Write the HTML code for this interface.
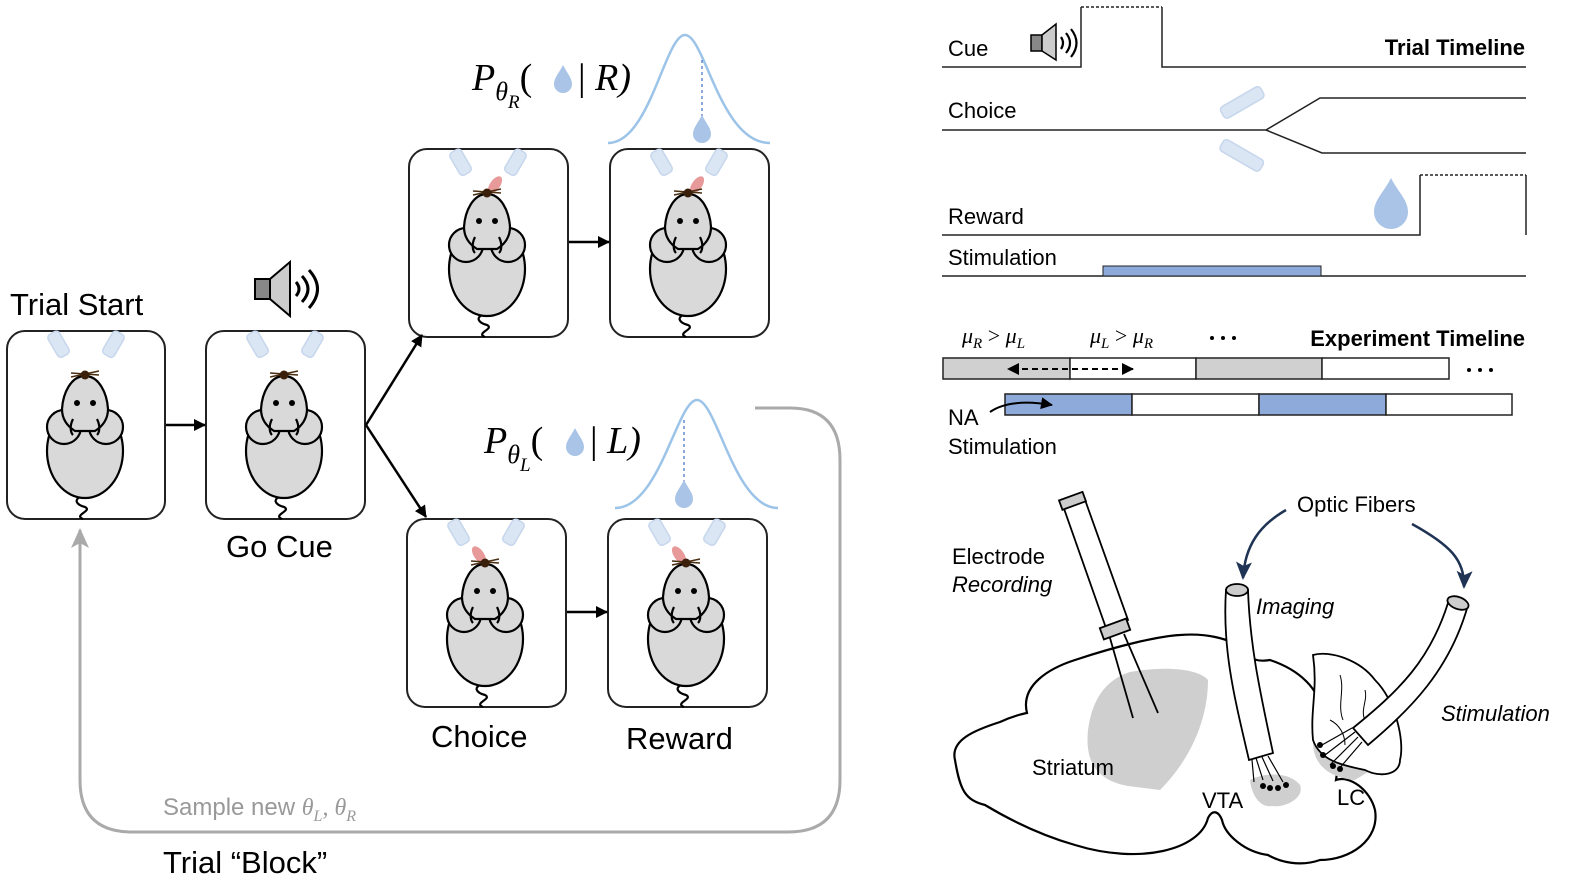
<!DOCTYPE html>
<html><head><meta charset="utf-8"><style>
html,body{margin:0;padding:0;background:#fff}
svg{display:block}
text{font-family:"Liberation Sans",Arial,sans-serif}
.m{font-family:"Liberation Serif","DejaVu Serif",serif;font-style:italic}
</style></head><body>
<svg width="1578" height="887" viewBox="0 0 1578 887" xmlns="http://www.w3.org/2000/svg">
<defs>
<marker id="ah" markerWidth="12" markerHeight="12" refX="11" refY="6" orient="auto" markerUnits="userSpaceOnUse"><path d="M0,0 L12,6 L0,12z" fill="#000"/></marker>
<marker id="ag" markerWidth="22" markerHeight="22" refX="18" refY="11" orient="auto" markerUnits="userSpaceOnUse"><path d="M0,2 L20,11 L0,20 L5,11z" fill="#aaa"/></marker>
<marker id="ab" markerWidth="20" markerHeight="20" refX="16" refY="10" orient="auto" markerUnits="userSpaceOnUse"><path d="M0,2 L18,10 L0,18 L4,10z" fill="#1f3354"/></marker>
<path id="drop" d="M0,-15 C4,-7 9,-2 9,4 A9,9 0 0 1 -9,4 C-9,-2 -4,-7 0,-15Z" fill="#a9c4e6"/>
<g id="mouse">
 <g fill="#dbe6f4" stroke="#c6d6ec" stroke-width="1.5">
  <rect x="45" y="0" width="13" height="26" rx="4" transform="rotate(-30 52 13)"/>
  <rect x="100" y="0" width="13" height="26" rx="4" transform="rotate(30 106 13)"/>
 </g>
 <g stroke="#000" stroke-width="2.2" fill="#d9d9d9">
  <path d="M78,164 c-14,4 -8,10 0,12 c8,4 -12,8 -2,12" fill="none"/>
  <ellipse cx="78" cy="120" rx="38" ry="47"/>
  <circle cx="57" cy="96" r="17"/>
  <circle cx="99" cy="96" r="17"/>
  <path d="M78,45 C92,45 100,62 101,78 C101,88 96,95 88,100 L68,100 C60,95 55,88 55,78 C56,62 64,45 78,45Z"/>
  <path d="M66,88 c-4,8 -2,14 0,16 M90,88 c4,8 2,14 0,16" fill="none"/>
 </g>
 <path d="M64,42 L92,44 M64,46 L92,40" stroke="#4a2e12" stroke-width="1.5"/>
 <circle cx="78" cy="44" r="4.5" fill="#3a200a"/>
 <circle cx="70" cy="72" r="3" fill="#000"/><circle cx="86" cy="72" r="3" fill="#000"/>
</g>
</defs>

<g fill="#fff" stroke="#222" stroke-width="2">
<rect x="7" y="331" width="158" height="188" rx="18"/>
<rect x="206" y="331" width="159" height="188" rx="18"/>
<rect x="409" y="149" width="159" height="188" rx="18"/>
<rect x="610" y="149" width="159" height="188" rx="18"/>
<rect x="407" y="519" width="159" height="188" rx="18"/>
<rect x="608" y="519" width="159" height="188" rx="18"/>
</g>
<use href="#mouse" x="7" y="331"/>
<use href="#mouse" x="206" y="331"/>
<g fill="#e89a9a"><ellipse cx="495" cy="185" rx="5" ry="10" transform="rotate(35 495 185)"/><ellipse cx="697" cy="185" rx="5" ry="10" transform="rotate(35 697 185)"/>
<ellipse cx="479" cy="555" rx="5" ry="10" transform="rotate(-35 479 555)"/><ellipse cx="679" cy="555" rx="5" ry="10" transform="rotate(-35 679 555)"/></g>
<use href="#mouse" x="409" y="149"/>
<use href="#mouse" x="610" y="149"/>
<use href="#mouse" x="407" y="519"/>
<use href="#mouse" x="608" y="519"/>

<g stroke="#000" stroke-width="2.5" fill="none" marker-end="url(#ah)">
<line x1="166" y1="425" x2="205" y2="425"/>
<path d="M366,425 L422,335"/>
<path d="M366,425 L426,517"/>
<line x1="569" y1="242" x2="609" y2="242"/>
<line x1="567" y1="612" x2="607" y2="612"/>
</g>
<path d="M755,408 L790,408 Q840,408 840,460 L840,780 Q840,832 788,832 L132,832 Q80,832 80,780 L80,530" fill="none" stroke="#aaa" stroke-width="3" marker-end="url(#ag)"/>

<g><rect x="255" y="279" width="15" height="20" fill="#888" stroke="#000" stroke-width="2"/><path d="M270,279 L290,262 L290,316 L270,299Z" fill="#ccc" stroke="#000" stroke-width="2"/>
<path d="M296,282 q6,7 0,14 M302,276 q12,13 0,26 M309,270 q17,19 0,38" fill="none" stroke="#000" stroke-width="3"/></g>

<g font-size="31" fill="#000">
<text x="10" y="315">Trial Start</text>
<text x="226" y="557">Go Cue</text>
<text x="431" y="747">Choice</text>
<text x="626" y="749">Reward</text>
<text x="163" y="873">Trial “Block”</text>
</g>
<text x="163" y="815" font-size="24" fill="#999">Sample new <tspan class="m">θ<tspan font-size="16" dy="6">L</tspan><tspan dy="-6">, θ</tspan><tspan font-size="16" dy="6">R</tspan></tspan></text>

<path d="M608,143 C650,143 665,35 685,35 C705,35 720,143 770,143" fill="none" stroke="#9cc3e8" stroke-width="2.5"/>
<line x1="702" y1="60" x2="702" y2="143" stroke="#4b78c8" stroke-width="1.3" stroke-dasharray="3,3"/>
<use href="#drop" x="702" y="130"/>
<path d="M615,508 C660,508 677,400 697,400 C717,400 734,508 778,508" fill="none" stroke="#9cc3e8" stroke-width="2.5"/>
<line x1="684" y1="420" x2="684" y2="508" stroke="#4b78c8" stroke-width="1.3" stroke-dasharray="3,3"/>
<use href="#drop" x="684" y="495"/>
<text class="m" x="472" y="90" font-size="38">P<tspan font-size="26" dy="10">θ</tspan><tspan font-size="19" dy="8">R</tspan><tspan font-style="normal" dy="-18">(</tspan></text>
<use href="#drop" x="563" y="80"/>
<text class="m" x="578" y="90" font-size="38"><tspan font-style="normal">|</tspan> R)</text>
<text class="m" x="484" y="453" font-size="38">P<tspan font-size="26" dy="10">θ</tspan><tspan font-size="19" dy="8">L</tspan><tspan font-style="normal" dy="-18">(</tspan></text>
<use href="#drop" x="575" y="443"/>
<text class="m" x="590" y="453" font-size="38"><tspan font-style="normal">|</tspan> L)</text>

<g stroke="#222" stroke-width="1.5" fill="none">
<path d="M942,67 L1081,67 L1081,7"/>
<path d="M1081,7 L1162,7" stroke-dasharray="3,2"/>
<path d="M1162,7 L1162,67 L1526,67"/>
<path d="M942,130 L1266,130 L1320,98 L1526,98 M1266,130 L1322,153 L1526,153"/>
<path d="M942,235 L1420,235 L1420,175"/>
<path d="M1420,175 L1526,175" stroke-dasharray="3,2"/>
<path d="M1526,175 L1526,235"/>
<path d="M942,276 L1526,276"/>
</g>
<rect x="1103" y="266" width="218" height="10" fill="#8eaadb" stroke="#222" stroke-width="1"/>
<g><rect x="1031" y="35" width="11" height="16" fill="#888" stroke="#000" stroke-width="1.5"/><path d="M1042,35 L1056,24 L1056,60 L1042,51Z" fill="#ccc" stroke="#000" stroke-width="1.5"/>
<path d="M1061,37 q4,6 0,12 M1066,33 q8,10 0,20 M1071,29 q11,14 0,28" fill="none" stroke="#000" stroke-width="2.2"/></g>
<g fill="#dbe6f4" stroke="#c6d6ec" stroke-width="1.5"><rect x="1219" y="96" width="46" height="13" rx="4" transform="rotate(-30 1242 102)"/><rect x="1219" y="149" width="46" height="13" rx="4" transform="rotate(30 1242 155)"/></g>
<path d="M1391,178 C1398,192 1408,200 1408,212 A17,17 0 0 1 1374,212 C1374,200 1384,192 1391,178Z" fill="#a9c4e6"/>
<g font-size="22" fill="#000">
<text x="948" y="56">Cue</text>
<text x="948" y="118">Choice</text>
<text x="948" y="224">Reward</text>
<text x="948" y="265">Stimulation</text>
<text x="1525" y="55" text-anchor="end" font-weight="bold">Trial Timeline</text>
<text x="1525" y="346" text-anchor="end" font-weight="bold">Experiment Timeline</text>
<text x="948" y="425">NA</text>
<text x="948" y="454">Stimulation</text>
</g>
<text class="m" x="962" y="343" font-size="22">μ<tspan font-size="15" dy="5">R</tspan><tspan dy="-5" font-style="normal"> &gt; </tspan>μ<tspan font-size="15" dy="5">L</tspan></text>
<text class="m" x="1090" y="343" font-size="22">μ<tspan font-size="15" dy="5">L</tspan><tspan dy="-5" font-style="normal"> &gt; </tspan>μ<tspan font-size="15" dy="5">R</tspan></text>
<g fill="#000"><circle cx="1212" cy="338" r="2"/><circle cx="1223" cy="338" r="2"/><circle cx="1234" cy="338" r="2"/>
<circle cx="1469" cy="370" r="2"/><circle cx="1480" cy="370" r="2"/><circle cx="1491" cy="370" r="2"/></g>
<g stroke="#222" stroke-width="1.5">
<rect x="943" y="358" width="127" height="21" fill="#d0d0d0"/><rect x="1070" y="358" width="126" height="21" fill="#fff"/>
<rect x="1196" y="358" width="126" height="21" fill="#d0d0d0"/><rect x="1322" y="358" width="127" height="21" fill="#fff"/>
<rect x="1005" y="394" width="127" height="21" fill="#8eaadb"/><rect x="1132" y="394" width="127" height="21" fill="#fff"/>
<rect x="1259" y="394" width="127" height="21" fill="#8eaadb"/><rect x="1386" y="394" width="126" height="21" fill="#fff"/>
</g>
<g stroke="#000" stroke-width="2" fill="none">
<path d="M1068,369 L1008,369" stroke-dasharray="6,4" marker-end="url(#ah)"/>
<path d="M1072,369 L1133,369" stroke-dasharray="6,4" marker-end="url(#ah)"/>
<path d="M990,412 Q1010,398 1052,405" marker-end="url(#ah)"/>
</g>

<path d="M1027,713 C1020,685 1050,668 1075,660 C1120,645 1160,636 1180,635 C1205,633 1230,638 1245,650 C1250,660 1258,662 1270,660 C1300,670 1320,690 1320,710 C1335,725 1340,760 1336,780 C1350,775 1370,790 1375,810 C1380,840 1350,860 1320,860 C1300,867 1280,862 1268,855 C1245,852 1225,835 1222,820 C1218,810 1212,810 1208,818 C1200,850 1140,865 1075,845 C1040,835 1010,820 985,805 C965,800 960,790 955,760 C950,740 975,730 1000,722 C1015,715 1027,713 1027,713Z" fill="#fff" stroke="#000" stroke-width="2.2"/>
<path d="M1130,672 C1170,665 1200,670 1208,680 C1208,720 1190,760 1160,790 L1128,786 C1095,780 1085,760 1088,730 C1092,700 1105,680 1130,672Z" fill="#cfcfcf"/>
<path d="M1250,780 C1265,772 1290,772 1300,785 C1305,798 1285,808 1272,806 C1262,808 1252,798 1250,780Z" fill="#cfcfcf"/>
<path d="M1313,740 C1325,745 1350,760 1368,772 L1355,780 C1330,778 1312,765 1313,740Z" fill="#cfcfcf"/>
<path d="M1313,655 C1330,650 1360,660 1375,680 C1395,700 1405,740 1400,760 C1400,775 1380,778 1365,770 C1340,765 1320,760 1313,740 C1310,710 1318,690 1313,655Z" fill="#fff" stroke="#000" stroke-width="1.8"/>
<g stroke="#000" stroke-width="1" fill="none"><path d="M1340,675 c5,15 -3,30 3,45 M1365,690 c3,10 -5,20 0,30 M1330,720 c10,5 15,15 15,25"/></g>
<g stroke="#000" stroke-width="1.8" fill="#fff">
<path d="M1062,503 L1106,628 L1128,620 L1084,497Z"/>
<rect x="1060" y="496" width="25" height="10" fill="#ccc" transform="rotate(-20 1072 501)"/>
<rect x="1101" y="623" width="28" height="12" fill="#ccc" transform="rotate(-20 1115 629)"/>
<path d="M1110,638 L1133,718 M1124,634 L1158,713" fill="none"/>
</g>
<g stroke="#000" stroke-width="1.8" fill="#fff">
<path d="M1226,590 C1222,650 1235,700 1249,760 L1273,753 C1262,700 1250,650 1248,590Z"/>
<ellipse cx="1237" cy="590" rx="11" ry="6" fill="#ccc"/>
<path d="M1256,758 L1263,780 M1262,757 L1273,781 M1268,756 L1283,782 M1252,760 L1254,782" fill="none" stroke-width="1.2"/>
</g>
<g fill="#000"><circle cx="1263" cy="786" r="3"/><circle cx="1270" cy="788" r="3"/><circle cx="1278" cy="788" r="3"/><circle cx="1286" cy="785" r="3"/></g>
<g stroke="#000" stroke-width="1.8" fill="#fff">
<path d="M1448,603 C1430,660 1400,690 1353,728 L1368,745 C1410,710 1450,670 1468,605Z"/>
<ellipse cx="1458" cy="603" rx="11" ry="6" fill="#ccc" transform="rotate(20 1458 603)"/>
<path d="M1355,732 L1325,755 M1358,737 L1330,765 M1362,742 L1338,770 M1352,728 L1322,745" fill="none" stroke-width="1.2"/>
</g>
<g fill="#000"><circle cx="1320" cy="745" r="3"/><circle cx="1323" cy="755" r="3"/><circle cx="1333" cy="766" r="3"/><circle cx="1340" cy="769" r="3"/></g>
<g stroke="#1f3354" stroke-width="2.5" fill="none" marker-end="url(#ab)">
<path d="M1286,510 C1260,525 1245,545 1243,578"/>
<path d="M1412,524 C1450,545 1465,560 1464,587"/>
</g>
<g font-size="22" fill="#000">
<text x="1297" y="512">Optic Fibers</text>
<text x="952" y="564">Electrode</text>
<text x="952" y="592" font-style="italic">Recording</text>
<text x="1256" y="614" font-style="italic">Imaging</text>
<text x="1441" y="721" font-style="italic">Stimulation</text>
<text x="1032" y="775">Striatum</text>
<text x="1202" y="808">VTA</text>
<text x="1337" y="805">LC</text>
</g>
</svg>
</body></html>
